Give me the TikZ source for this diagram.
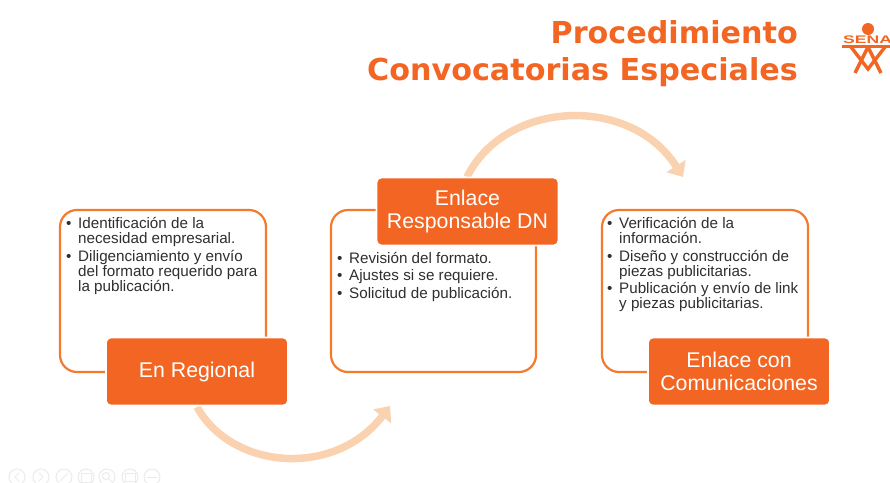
\documentclass[tikz,border=0pt]{standalone}
\usepackage{fontspec}
\setmainfont{Liberation Sans}
\newfontfamily\titlefont{DejaVu Sans}
\usetikzlibrary{arrows.meta}
\definecolor{senaorange}{HTML}{F26522}
\definecolor{frameorange}{HTML}{F47A2E}
\definecolor{peach}{HTML}{FAD2B0}
\definecolor{bodytext}{HTML}{2F2F2F}
\definecolor{faint}{HTML}{EBEBEB}
\tikzset{
  x=1pt,y=-1pt,
  frame/.style={draw=frameorange,line width=2.2pt,rounded corners=17pt,fill=white},
  labelbox/.style={fill=senaorange,draw=white,line width=1.6pt,rounded corners=5pt,text=white,align=center,
    minimum width=182pt,minimum height=68pt,inner sep=0pt,font=\fontsize{21.3}{23}\selectfont},
  listtext/.style={anchor=north west,align=left,inner sep=0pt,text=bodytext,font=\fontsize{15.2}{15}\selectfont},
  flow/.style={draw=peach,line width=7.5pt,-{Triangle[length=13pt,width=22pt]}},
  titletext/.style={anchor=east,inner sep=0pt,text=senaorange,font=\titlefont\bfseries\fontsize{30.2}{36}\selectfont},
  logo/.style={draw=senaorange,line width=3.4pt},
  toolicon/.style={draw=faint,line width=1pt,fill=white,circle,minimum size=16pt,inner sep=0pt},
}
\newcommand{\itm}[1]{\makebox[12pt][l]{•}#1}
\newcommand{\cont}[1]{\hspace*{12pt}#1}
\begin{document}
\begin{tikzpicture}
\useasboundingbox[fill=white] (0,0) rectangle (890,482);
% title
\node[titletext] (t1) at (798,32) {Procedimiento};
\node[titletext] (t2) at (798,72.5) {Convocatorias Especiales};
% logo
\begin{scope}
\clip (830,10) rectangle (890,90);
\fill[senaorange] (868,29) circle (6);
\node[anchor=west,inner sep=0pt,text=senaorange,font=\bfseries\fontsize{11}{11}\selectfont] (sena) at (843,40) {\scalebox{1.6}[1]{SENA}};
\fill[senaorange] (842,44.5) rectangle (890,48);
\draw[logo] (851,47) -- (868,69) -- (885,47);
\draw[logo] (868,47) -- (855,73);
\draw[logo] (868,47) -- (881,73);
\end{scope}
% frames
\node[frame,minimum width=206pt,minimum height=162pt] (f1) at (163,291) {};
\node[frame,minimum width=205pt,minimum height=162pt] (f2) at (433.5,291) {};
\node[frame,minimum width=206pt,minimum height=162pt] (f3) at (705,291) {};
% lists
\node[listtext] (l1) at (66,217) {\itm{Identificación de la}\\\cont{necesidad empresarial.}\\[3pt]\itm{Diligenciamiento y envío}\\\cont{del formato requerido para}\\\cont{la publicación.}};
\node[listtext] (l2) at (337,252) {\itm{Revisión del formato.}\\[2.5pt]\itm{Ajustes si se requiere.}\\[2.5pt]\itm{Solicitud de publicación.}};
\node[listtext] (l3) at (607,217) {\itm{Verificación de la}\\\cont{información.}\\[3pt]\itm{Diseño y construcción de}\\\cont{piezas publicitarias.}\\[2.5pt]\itm{Publicación y envío de link}\\\cont{y piezas publicitarias.}};
% arrows
\coordinate (a1s) at (197,407);
\coordinate (a1e) at (390,406);
\coordinate (a2s) at (467,177);
\coordinate (a2e) at (683,177);
\draw[flow] (a1s) .. controls (232,470) and (335,478) .. (a1e);
\draw[flow] (a2s) .. controls (505,100) and (630,94) .. (a2e);
% label boxes
\node[labelbox] (b1) at (197,371.5) {\raisebox{-1pt}{En Regional}};
\node[labelbox] (b2) at (467.5,211.5) {Enlace\\Responsable DN};
\node[labelbox] (b3) at (739,371.5) {Enlace con\\Comunicaciones};
% toolbar
\begin{scope}
\clip (0,462) rectangle (170,482);
\foreach \n/\px in {a/17,b/41,c/64,d/86,e/107,f/130,g/152}{
  \node[toolicon] (tool\n) at (\px,477) {};
}
\draw[faint,line width=1pt] (19,473) -- (15,477) -- (19,481);
\draw[faint,line width=1pt] (39,473) -- (43,477) -- (39,481);
\draw[faint,line width=1pt] (60,481) -- (68,473);
\draw[faint,line width=1pt] (81,473) rectangle (91,482);
\draw[faint,line width=1pt] (106,476) circle (3.5) (109,479) -- (112,482);
\draw[faint,line width=1pt] (125,473) rectangle (135,481);
\draw[faint,line width=1pt] (147,477) -- (157,477);
\end{scope}
\end{tikzpicture}
\end{document}
